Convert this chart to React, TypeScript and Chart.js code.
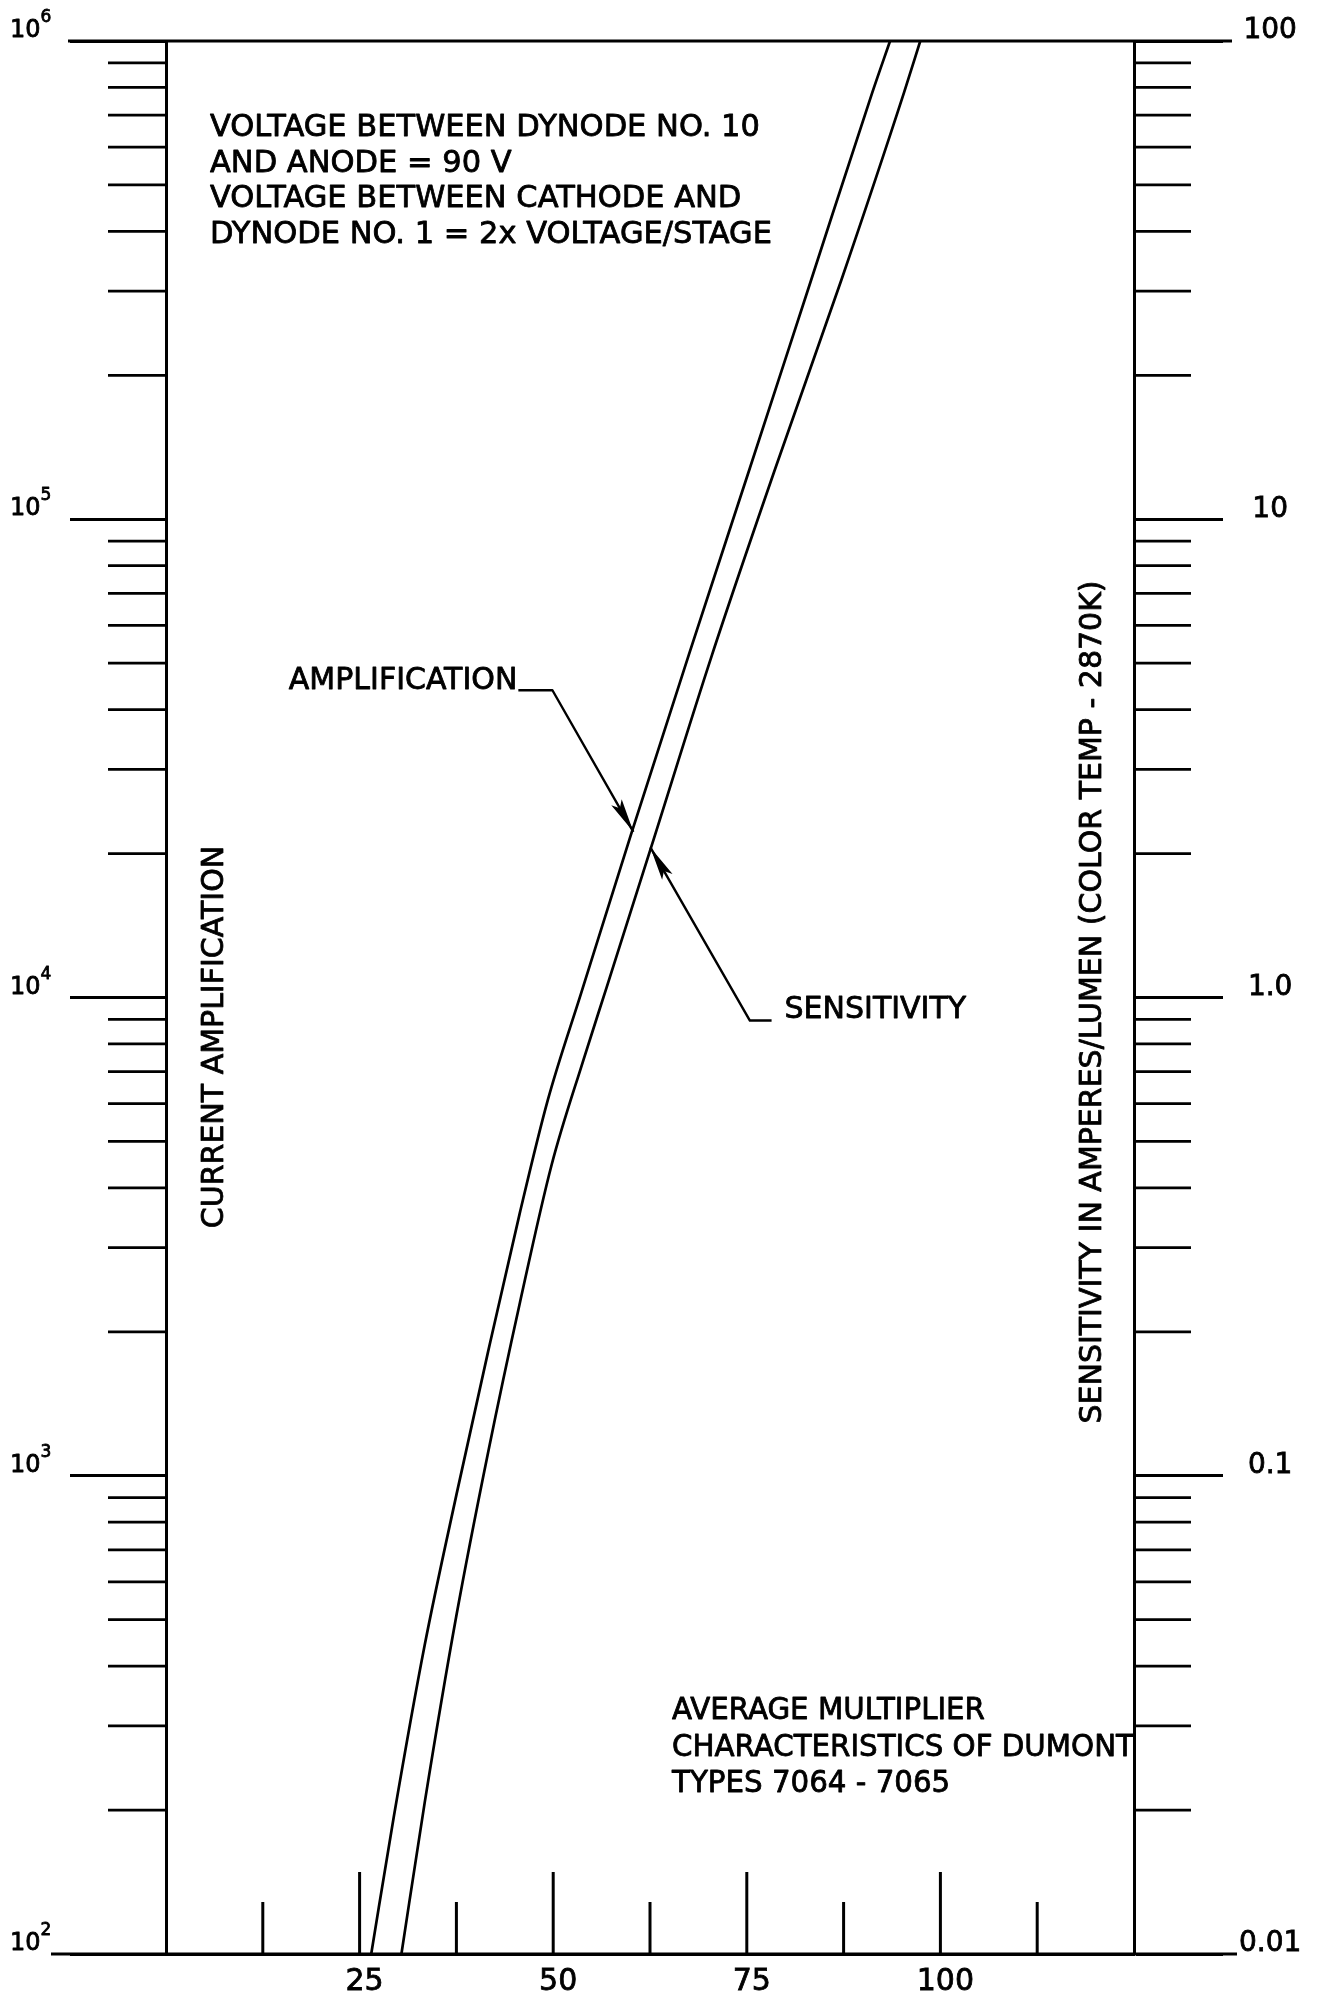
import React, { useEffect, useRef } from "react";
import { Chart, registerables } from "chart.js";

Chart.register(...registerables);

// ---- data ----
// x: volts per stage
const ampVolts = [26.5, 29.4, 33.4, 37.5, 41.6, 45.7, 49.3, 53.6, 60.0, 67.5, 75.4, 83.3, 91.2, 93.5];
const amplification = [100, 193, 442, 912, 1820, 3550, 6100, 10200, 21800, 52000, 128000, 316000, 780000, 1000000];

const sensVolts = [30.4, 33.4, 37.5, 41.6, 45.7, 49.8, 53.9, 56.9, 62.6, 70.5, 78.7, 87.2, 95.3, 97.4];
const sensitivity = [0.01, 0.0207, 0.051, 0.112, 0.23, 0.447, 0.74, 1.05, 2.05, 5.2, 12.8, 31.6, 78, 100];

const xTickValues = [0, 12.5, 25, 37.5, 50, 62.5, 75, 87.5, 100, 112.5, 125];
const xTickLabels = ["", "", "25", "", "50", "", "75", "", "100", "", ""];
const ampDecades = [100, 1000, 10000, 100000, 1000000];
const ampDecadeExponents = ["2", "3", "4", "5", "6"];
const sensDecades = [0.01, 0.1, 1, 10, 100];
const sensDecadeLabels = ["0.01", "0.1", "1.0", "10", "100"];
const minorMultipliers = [2, 3, 4, 5, 6, 7, 8, 9];

const noteLines = [
  "VOLTAGE BETWEEN DYNODE NO. 10",
  "AND ANODE = 90 V",
  "VOLTAGE BETWEEN CATHODE AND",
  "DYNODE NO. 1 = 2x VOLTAGE/STAGE",
];
const captionLines = ["AVERAGE MULTIPLIER", "CHARACTERISTICS OF DUMONT", "TYPES 7064 - 7065"];
const leftTitle = "CURRENT AMPLIFICATION";
const rightTitle = "SENSITIVITY IN AMPERES/LUMEN (COLOR TEMP - 2870K)";
const ampLabel = "AMPLIFICATION";
const sensLabel = "SENSITIVITY";

const FONT = '"DejaVu Sans", "Liberation Sans", sans-serif';
const TEXT_STROKE = 0.8;

function minorLogTicks(decades: number[]) {
  const out: number[] = [];
  decades.forEach((d, i) => {
    if (i < decades.length - 1) minorMultipliers.forEach((m) => out.push(d * m));
  });
  return out;
}

const decorPlugin = {
  id: "decor",
  beforeDraw(chart: any) {
    const { ctx, width, height } = chart;
    ctx.save();
    ctx.fillStyle = "#fff";
    ctx.fillRect(0, 0, width, height);
    ctx.restore();
  },
  afterDatasetsDraw(chart: any) {
    const { ctx, chartArea: ca, scales } = chart;
    const xs = scales.x;
    const ys = scales.y;
    const ys2 = scales.y2;
    ctx.save();
    ctx.strokeStyle = "#000";
    ctx.fillStyle = "#000";
    ctx.lineCap = "butt";
    ctx.lineJoin = "round";
    const seg = (x1: number, y1: number, x2: number, y2: number, w: number) => {
      ctx.lineWidth = w;
      ctx.beginPath();
      ctx.moveTo(x1, y1);
      ctx.lineTo(x2, y2);
      ctx.stroke();
    };
    const text = (t: string, x: number, y: number) => {
      ctx.lineWidth = TEXT_STROKE;
      ctx.fillText(t, x, y);
      ctx.strokeText(t, x, y);
    };

    // minor log ticks (outward), left and right
    minorLogTicks(ampDecades).forEach((v) => {
      const py = ys.getPixelForValue(v);
      seg(ca.left - 58, py, ca.left, py, 2.8);
    });
    minorLogTicks(sensDecades).forEach((v) => {
      const py = ys2.getPixelForValue(v);
      seg(ca.right, py, ca.right + 57, py, 2.8);
    });
    // top and bottom frame lines, extended past both axes
    const topY = ys.getPixelForValue(ampDecades[ampDecades.length - 1]);
    seg(ca.left - 98, topY, ca.right + 98, topY, 3);
    seg(ca.left - 115, ca.bottom, ca.right + 103, ca.bottom, 3);

    // bottom ticks (inward)
    xTickValues.forEach((v) => {
      if (v <= xs.min || v >= xs.max) return;
      const px = xs.getPixelForValue(v);
      const long = v % 25 === 0;
      seg(px, ca.bottom, px, ca.bottom - (long ? 82 : 52), 3);
    });

    // left decade labels 10^n
    ctx.textAlign = "left";
    ctx.textBaseline = "alphabetic";
    ampDecades.forEach((d, i) => {
      const py = ys.getPixelForValue(d);
      ctx.font = `24px ${FONT}`;
      text("10", 10, py - 4);
      const w = ctx.measureText("10").width;
      ctx.font = `17px ${FONT}`;
      text(ampDecadeExponents[i], 10 + w, py - 19);
    });

    // axis titles (rotated, inside frame)
    ctx.font = `30px ${FONT}`;
    ctx.textAlign = "center";
    ctx.textBaseline = "middle";
    ctx.save();
    ctx.translate(ca.left + 49, ca.top + 996);
    ctx.rotate(-Math.PI / 2);
    text(leftTitle, 0, 0);
    ctx.restore();
    ctx.save();
    ctx.translate(ca.right - 41, ca.top + 961);
    ctx.rotate(-Math.PI / 2);
    text(rightTitle, 0, 0);
    ctx.restore();

    // notes block (upper left)
    ctx.textAlign = "left";
    ctx.textBaseline = "alphabetic";
    ctx.font = `30.5px ${FONT}`;
    noteLines.forEach((t, i) => text(t, ca.left + 44, ca.top + 95 + i * 35.5));

    // caption block (lower right)
    ctx.font = `29.3px ${FONT}`;
    captionLines.forEach((t, i) => text(t, ca.left + 506, ca.top + 1678 + i * 36.5));

    // arrow helper
    const arrowHead = (tx: number, ty: number, fx: number, fy: number) => {
      const dx = fx - tx;
      const dy = fy - ty;
      const L = Math.hypot(dx, dy);
      const ux = dx / L;
      const uy = dy / L;
      const len = 34;
      const hw = 6;
      const bx = tx + ux * len;
      const by = ty + uy * len;
      ctx.beginPath();
      ctx.moveTo(tx, ty);
      ctx.lineTo(bx - uy * hw, by + ux * hw);
      ctx.lineTo(tx + ux * len * 0.8, ty + uy * len * 0.8);
      ctx.lineTo(bx + uy * hw, by - ux * hw);
      ctx.closePath();
      ctx.fill();
    };

    // AMPLIFICATION leader (anchored in data space)
    const aStartX = xs.getPixelForValue(45.5);
    const aElbowX = xs.getPixelForValue(49.9);
    const aY = ys.getPixelForValue(43900);
    const aTipX = xs.getPixelForValue(60.35);
    const aTipY = ys.getPixelForValue(22200);
    ctx.lineWidth = 2.4;
    ctx.beginPath();
    ctx.moveTo(aStartX, aY);
    ctx.lineTo(aElbowX, aY);
    ctx.lineTo(aTipX, aTipY);
    ctx.stroke();
    arrowHead(aTipX, aTipY, aElbowX, aY);
    ctx.font = `30px ${FONT}`;
    ctx.textAlign = "right";
    text(ampLabel, aStartX - 1, aY - 1);

    // SENSITIVITY leader
    const sTipX = xs.getPixelForValue(62.55);
    const sTipY = ys2.getPixelForValue(2.06);
    const sElbowX = xs.getPixelForValue(75.4);
    const sY = ys2.getPixelForValue(0.895);
    const sEndX = xs.getPixelForValue(78.2);
    ctx.lineWidth = 2.4;
    ctx.beginPath();
    ctx.moveTo(sTipX, sTipY);
    ctx.lineTo(sElbowX, sY);
    ctx.lineTo(sEndX, sY);
    ctx.stroke();
    arrowHead(sTipX, sTipY, sElbowX, sY);
    ctx.textAlign = "left";
    text(sensLabel, sEndX + 13, sY - 3);

    ctx.restore();
  },
};

export default function App() {
  const canvasRef = useRef<HTMLCanvasElement | null>(null);

  useEffect(() => {
    const canvas = canvasRef.current;
    if (!canvas) return;
    const chart = new Chart(canvas, {
      type: "line",
      data: {
        datasets: [
          {
            label: "Amplification",
            data: ampVolts.map((x, i) => ({ x, y: amplification[i] })),
            yAxisID: "y",
            borderColor: "#000",
            borderWidth: 2.7,
            pointRadius: 0,
            fill: false,
            cubicInterpolationMode: "monotone",
          },
          {
            label: "Sensitivity",
            data: sensVolts.map((x, i) => ({ x, y: sensitivity[i] })),
            yAxisID: "y2",
            borderColor: "#000",
            borderWidth: 2.7,
            pointRadius: 0,
            fill: false,
            cubicInterpolationMode: "monotone",
          },
        ],
      },
      options: {
        responsive: false,
        animation: false,
        devicePixelRatio: 1,
        layout: { padding: { left: 13, top: 41, right: 0, bottom: 0 } },
        plugins: { legend: { display: false }, tooltip: { enabled: false }, title: { display: false } },
        scales: {
          x: {
            type: "linear",
            position: "bottom",
            min: 0,
            max: 125,
            grid: { display: false, drawTicks: false },
            border: { display: true, color: "#000", width: 3 },
            afterBuildTicks: (s: any) => {
              s.ticks = xTickValues.map((v) => ({ value: v }));
            },
            afterFit: (s: any) => {
              s.height = 41;
            },
            ticks: {
              autoSkip: false,
              maxRotation: 0,
              minRotation: 0,
              padding: 10,
              labelOffset: 5,
              color: "#000",
              textStrokeColor: "#000",
              textStrokeWidth: TEXT_STROKE,
              font: { family: FONT, size: 30 },
              callback: (_v: any, i: number) => xTickLabels[i],
            },
          },
          y: {
            type: "logarithmic",
            position: "left",
            min: 100,
            max: 1000000,
            grid: {
              display: true,
              drawOnChartArea: false,
              drawTicks: true,
              tickLength: 96,
              tickWidth: 2.8,
              tickColor: "#000",
            },
            border: { display: true, color: "#000", width: 3 },
            afterBuildTicks: (s: any) => {
              s.ticks = ampDecades.map((v) => ({ value: v }));
            },
            ticks: { display: false, padding: 0 },
            afterFit: (s: any) => {
              s.width = 153;
            },
          },
          y2: {
            type: "logarithmic",
            position: "right",
            min: 0.01,
            max: 100,
            grid: {
              display: true,
              drawOnChartArea: false,
              drawTicks: true,
              tickLength: 89,
              tickWidth: 2.8,
              tickColor: "#000",
            },
            border: { display: true, color: "#000", width: 3 },
            afterBuildTicks: (s: any) => {
              s.ticks = sensDecades.map((v) => ({ value: v }));
            },
            afterFit: (s: any) => {
              s.width = 196;
            },
            ticks: {
              autoSkip: false,
              padding: 16,
              crossAlign: "center",
              labelOffset: -10,
              color: "#000",
              textStrokeColor: "#000",
              textStrokeWidth: TEXT_STROKE,
              font: { family: FONT, size: 28 },
              callback: (_v: any, i: number) => sensDecadeLabels[i],
            },
          },
        },
      },
      plugins: [decorPlugin],
    } as any);
    return () => chart.destroy();
  }, []);

  return (
    <div style={{ position: "absolute", left: 0, top: 0, width: 1330, height: 1995, background: "#fff" }}>
      <canvas ref={canvasRef} width={1330} height={1995} style={{ display: "block" }} />
    </div>
  );
}
